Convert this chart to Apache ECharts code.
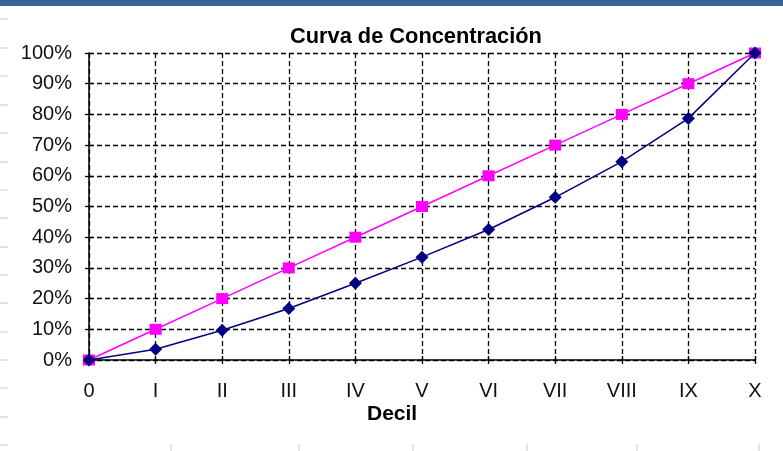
<!DOCTYPE html>
<html><head><meta charset="utf-8">
<script src="https://cdn.jsdelivr.net/npm/echarts@6/dist/echarts.min.js"></script>
<style>html,body{margin:0;padding:0;background:#fff}#c{width:783px;height:451px}</style>
</head><body><div id="c"></div>
<script>
var categories = ['0','I','II','III','IV','V','VI','VII','VIII','IX','X'];
var igualdad = [0,10,20,30,40,50,60,70,80,90,100];
var concentracion = [0,3.5,9.7,16.8,25,33.5,42.5,53,64.6,78.7,100];

var FONT = 'Liberation Sans, Arial, sans-serif';
var chart = echarts.init(document.getElementById('c'));
var deco = [{type:'rect', shape:{x:0,y:0,width:783,height:6}, style:{fill:'#346597'}}];
[19,48,76,105,133,162,190,218,247,275,303,332,360,388,417,445].forEach(function(y){
  deco.push({type:'line', shape:{x1:0,y1:y,x2:8,y2:y}, style:{stroke:'#c8c8c8',lineWidth:1}});
});
[171,299,413,527,637,759].forEach(function(x){
  deco.push({type:'line', shape:{x1:x,y1:444,x2:x,y2:451}, style:{stroke:'#c8c8c8',lineWidth:1}});
});
var gridStyle = {color:'#000', type:[5,3], width:1.3};
chart.setOption({
  animation:false,
  graphic: deco,
  title:[
    {text:'Curva de Concentración', left:290, top:26, padding:0, textStyle:{fontFamily:FONT, fontSize:21.8, fontWeight:'bold', color:'#000'}},
    {text:'Decil', left:367, top:404, padding:0, textStyle:{fontFamily:FONT, fontSize:21, fontWeight:'bold', color:'#000'}}
  ],
  grid:{left:89, right:28, top:53, bottom:91},
  xAxis:[
    {type:'category', data:categories, boundaryGap:false,
      axisLine:{lineStyle:{color:'#000',width:1.5}},
      axisTick:{show:true, alignWithLabel:true, length:4, lineStyle:{color:'#000', width:1.3}},
      axisLabel:{color:'#111', fontFamily:FONT, fontSize:20, margin:21},
      splitLine:{show:true, lineStyle:gridStyle}
    },
    {type:'category', data:categories, boundaryGap:false, position:'bottom',
      axisLine:{show:false},
      axisTick:{show:true, inside:true, alignWithLabel:true, length:4, lineStyle:{color:'#000', width:1.3}},
      axisLabel:{show:false}, splitLine:{show:false}
    }
  ],
  yAxis:[
    {type:'value', min:0, max:100, interval:10,
      axisLine:{show:true, lineStyle:{color:'#000',width:1.5}},
      axisTick:{show:true, length:4, lineStyle:{color:'#000', width:1.3}},
      axisLabel:{color:'#111', fontFamily:FONT, fontSize:20, margin:17, formatter:function(v){return v+'%';}},
      splitLine:{show:true, lineStyle:gridStyle}
    },
    {type:'value', min:0, max:100, interval:10, position:'left',
      axisLine:{show:false},
      axisTick:{show:true, inside:true, length:4, lineStyle:{color:'#000', width:1.3}},
      axisLabel:{show:false}, splitLine:{show:false}
    }
  ],
  series:[
    {name:'Igualdad', type:'line', data:igualdad, symbol:'rect', symbolSize:[12,11],
      itemStyle:{color:'#ff00ff'}, lineStyle:{color:'#ff00ff', width:1.5}, z:3},
    {name:'Concentración', type:'line', data:concentracion, symbol:'diamond', symbolSize:[13,13],
      itemStyle:{color:'#000080'}, lineStyle:{color:'#000080', width:1.5}, z:4}
  ]
});
</script></body></html>
